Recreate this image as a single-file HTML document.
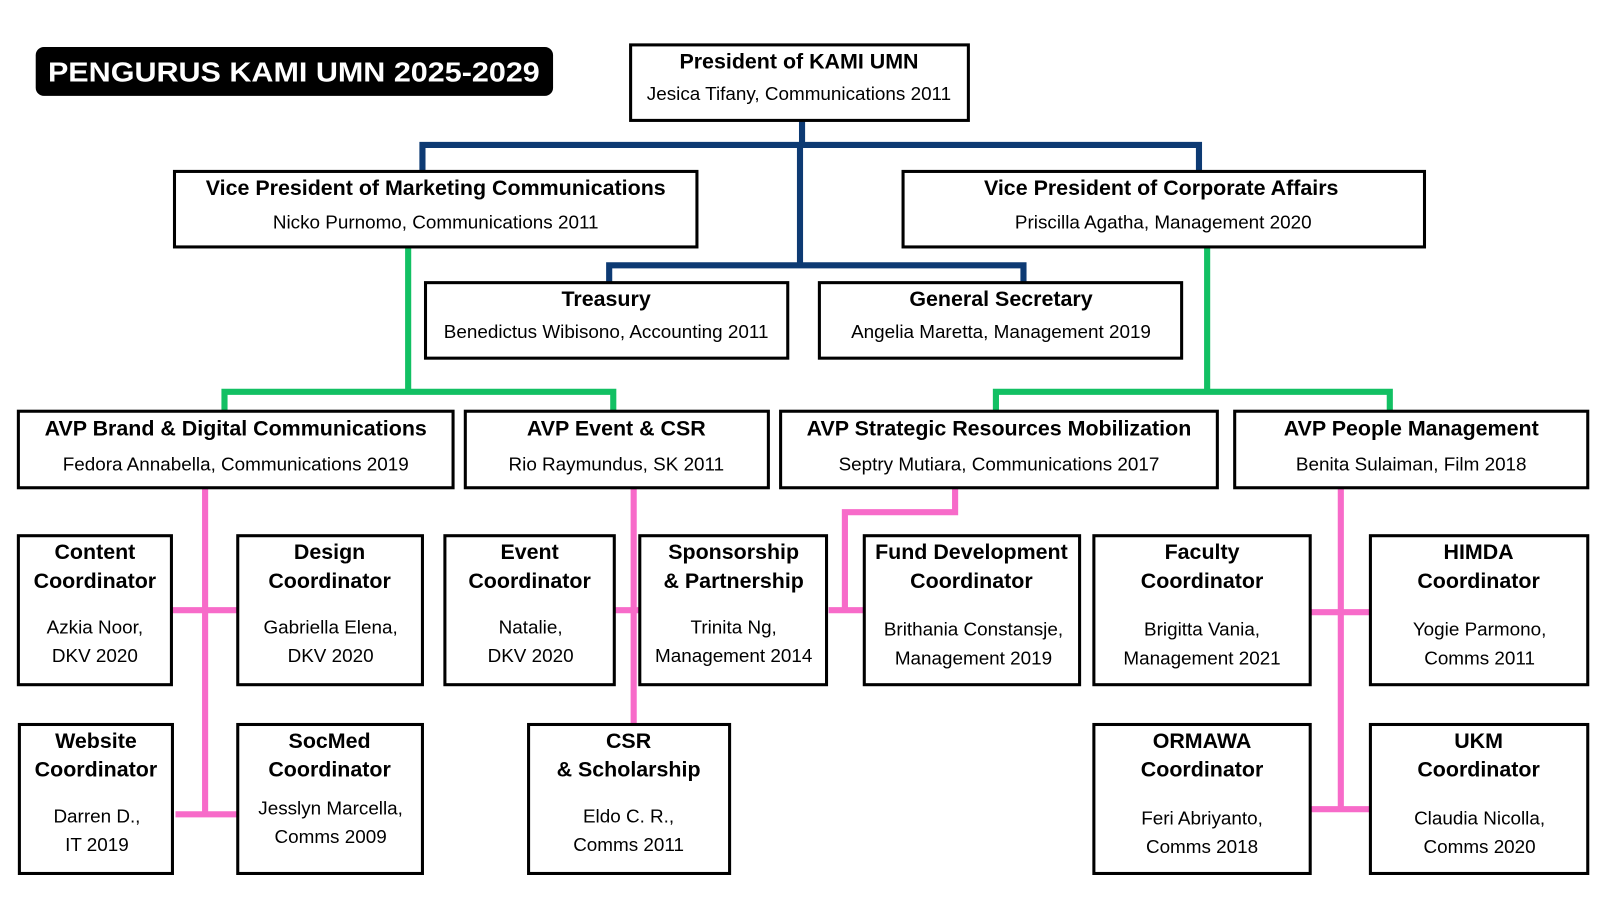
<!DOCTYPE html>
<html><head><meta charset="utf-8"><style>
html,body{margin:0;padding:0;background:#fff;width:1600px;height:900px;overflow:hidden}
svg{display:block}
text{font-family:"Liberation Sans",sans-serif;text-anchor:middle;fill:#000}
.t{font-weight:bold;font-size:21px}
.s{font-size:18.5px}
</style></head><body>
<svg width="1600" height="900" viewBox="0 0 1568 882" preserveAspectRatio="none">
<rect x="0" y="0" width="1568" height="882" fill="#fff"/>
<rect x="35" y="46" width="507" height="48" rx="8" fill="#000"/>
<text x="288" y="80" textLength="482" lengthAdjust="spacingAndGlyphs" style="font-weight:bold;font-size:27px;fill:#fff">PENGURUS KAMI UMN 2025-2029</text>
<g fill="none" stroke="#0d3a73" stroke-width="6">
<path d="M786 118 V142 M784 142 V260 M414 168 V142 H1175 V168 M597 277 V260 H1003 V277"/>
</g>
<g fill="none" stroke="#12c063" stroke-width="6">
<path d="M400 242 V384 M220 403 V384 H601 V403 M1183 242 V384 M976 403 V384 H1362 V403"/>
</g>
<g fill="none" stroke="#f76bc9" stroke-width="6">
<path d="M201 478 V798 M168 598 H233 M172 798 H233 M621 478 V710 M602 598 H627 M936 478 V502 H828 V598 M812 598 H847 M1314 478 V795 M1284 600 H1343 M1284 793 H1343"/>
</g>
<g fill="#fff" stroke="#000" stroke-width="3">
<rect x="618" y="44" width="331" height="74"/>
<rect x="171" y="168" width="512" height="74"/>
<rect x="885" y="168" width="511" height="74"/>
<rect x="417" y="277" width="355" height="74"/>
<rect x="803" y="277" width="355" height="74"/>
<rect x="18" y="403" width="426" height="75"/>
<rect x="456" y="403" width="297" height="75"/>
<rect x="765" y="403" width="428" height="75"/>
<rect x="1210" y="403" width="346" height="75"/>
<rect x="18" y="525" width="150" height="146"/>
<rect x="233" y="525" width="181" height="146"/>
<rect x="436" y="525" width="166" height="146"/>
<rect x="627" y="525" width="183" height="146"/>
<rect x="847" y="525" width="211" height="146"/>
<rect x="1072" y="525" width="212" height="146"/>
<rect x="1343" y="525" width="213" height="146"/>
<rect x="19" y="710" width="150" height="146"/>
<rect x="233" y="710" width="181" height="146"/>
<rect x="518" y="710" width="197" height="146"/>
<rect x="1072" y="710" width="212" height="146"/>
<rect x="1343" y="710" width="213" height="146"/>
</g>
<text class="t" x="783" y="67">President of KAMI UMN</text>
<text class="s" x="783" y="98">Jesica Tifany, Communications 2011</text>
<text class="t" x="427" y="191">Vice President of Marketing Communications</text>
<text class="s" x="427" y="224">Nicko Purnomo, Communications 2011</text>
<text class="t" x="1138" y="191">Vice President of Corporate Affairs</text>
<text class="s" x="1140" y="224">Priscilla Agatha, Management 2020</text>
<text class="t" x="594" y="300">Treasury</text>
<text class="s" x="594" y="331">Benedictus Wibisono, Accounting 2011</text>
<text class="t" x="981" y="300">General Secretary</text>
<text class="s" x="981" y="331">Angelia Maretta, Management 2019</text>
<text class="t" x="231" y="427">AVP Brand &amp; Digital Communications</text>
<text class="s" x="231" y="461">Fedora Annabella, Communications 2019</text>
<text class="t" x="604" y="427">AVP Event &amp; CSR</text>
<text class="s" x="604" y="461">Rio Raymundus, SK 2011</text>
<text class="t" x="979" y="427">AVP Strategic Resources Mobilization</text>
<text class="s" x="979" y="461">Septry Mutiara, Communications 2017</text>
<text class="t" x="1383" y="427">AVP People Management</text>
<text class="s" x="1383" y="461">Benita Sulaiman, Film 2018</text>
<g>
<text class="t" x="93" y="548">Content</text><text class="t" x="93" y="576">Coordinator</text>
<text class="s" x="93" y="621">Azkia Noor,</text><text class="s" x="93" y="649">DKV 2020</text>
<text class="t" x="323" y="548">Design</text><text class="t" x="323" y="576">Coordinator</text>
<text class="s" x="324" y="621">Gabriella Elena,</text><text class="s" x="324" y="649">DKV 2020</text>
<text class="t" x="519" y="548">Event</text><text class="t" x="519" y="576">Coordinator</text>
<text class="s" x="520" y="621">Natalie,</text><text class="s" x="520" y="649">DKV 2020</text>
<text class="t" x="719" y="548">Sponsorship</text><text class="t" x="719" y="576">&amp; Partnership</text>
<text class="s" x="719" y="621">Trinita Ng,</text><text class="s" x="719" y="649">Management 2014</text>
<text class="t" x="952" y="548">Fund Development</text><text class="t" x="952" y="576">Coordinator</text>
<text class="s" x="954" y="623">Brithania Constansje,</text><text class="s" x="954" y="651">Management 2019</text>
<text class="t" x="1178" y="548">Faculty</text><text class="t" x="1178" y="576">Coordinator</text>
<text class="s" x="1178" y="623">Brigitta Vania,</text><text class="s" x="1178" y="651">Management 2021</text>
<text class="t" x="1449" y="548">HIMDA</text><text class="t" x="1449" y="576">Coordinator</text>
<text class="s" x="1450" y="623">Yogie Parmono,</text><text class="s" x="1450" y="651">Comms 2011</text>
<text class="t" x="94" y="733">Website</text><text class="t" x="94" y="761">Coordinator</text>
<text class="s" x="95" y="806">Darren D.,</text><text class="s" x="95" y="834">IT 2019</text>
<text class="t" x="323" y="733">SocMed</text><text class="t" x="323" y="761">Coordinator</text>
<text class="s" x="324" y="798">Jesslyn Marcella,</text><text class="s" x="324" y="826">Comms 2009</text>
<text class="t" x="616" y="733">CSR</text><text class="t" x="616" y="761">&amp; Scholarship</text>
<text class="s" x="616" y="806">Eldo C. R.,</text><text class="s" x="616" y="834">Comms 2011</text>
<text class="t" x="1178" y="733">ORMAWA</text><text class="t" x="1178" y="761">Coordinator</text>
<text class="s" x="1178" y="808">Feri Abriyanto,</text><text class="s" x="1178" y="836">Comms 2018</text>
<text class="t" x="1449" y="733">UKM</text><text class="t" x="1449" y="761">Coordinator</text>
<text class="s" x="1450" y="808">Claudia Nicolla,</text><text class="s" x="1450" y="836">Comms 2020</text>
</g>
</svg>
</body></html>
